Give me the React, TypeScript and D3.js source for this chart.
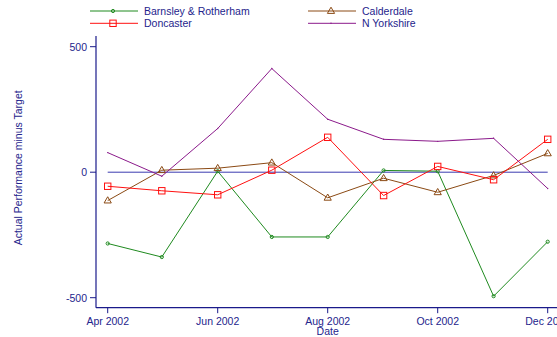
import React from 'react'
import * as d3 from 'd3'

const width = 557
const height = 337

const months = [
  '2002-04-01', '2002-05-01', '2002-06-01', '2002-07-01', '2002-08-01',
  '2002-09-01', '2002-10-01', '2002-11-01', '2002-12-01',
].map(s => new Date(s + 'T00:00:00'))

const barnsley = [-284, -338, 4, -258, -258, 7, 4, -494, -277]
const calderdale = [-113, 8, 16, 38, -102, -24, -80, -13, 75]
const doncaster = [-56, -74, -90, 8, 139, -93, 23, -30, 131]
const nYorkshire = [78, -16, 174, 413, 211, 131, 123, 135, -65]

const yTicks = [-500, 0, 500]
const xTickDates = ['2002-04-01', '2002-06-01', '2002-08-01', '2002-10-01', '2002-12-01']
  .map(s => new Date(s + 'T00:00:00'))
const xTickLabels = ['Apr 2002', 'Jun 2002', 'Aug 2002', 'Oct 2002', 'Dec 2002']

const axisColor = '#1a1a8a'
const textColor = '#24248c'
const font = '"Liberation Sans", Arial, sans-serif'

type Marker = 'circle' | 'square' | 'triangle' | 'dot'
type Series = { name: string, values: number[], color: string, marker: Marker }

const series: Series[] = [
  { name: 'Barnsley & Rotherham', values: barnsley, color: '#1f8a1f', marker: 'circle' },
  { name: 'Calderdale', values: calderdale, color: '#8b4a14', marker: 'triangle' },
  { name: 'Doncaster', values: doncaster, color: '#ff1010', marker: 'square' },
  { name: 'N Yorkshire', values: nYorkshire, color: '#8b1a8b', marker: 'dot' },
]

function MarkerShape({ type, x, y, color }: { type: Marker, x: number, y: number, color: string }) {
  if (type === 'circle') return <circle cx={x} cy={y} r={1.6} fill="none" stroke={color} strokeWidth={1} />
  if (type === 'square') return <rect x={x - 3.2} y={y - 3.2} width={6.4} height={6.4} fill="none" stroke={color} strokeWidth={1} />
  if (type === 'triangle') {
    const tri = `M${x},${y - 3.8}L${x + 3.6},${y + 2.4}L${x - 3.6},${y + 2.4}Z`
    return <path d={tri} fill="none" stroke={color} strokeWidth={1} />
  }
  return <circle cx={x} cy={y} r={0.7} fill={color} />
}

export default function App() {
  const x = d3.scaleTime()
    .domain([months[0], months[months.length - 1]])
    .range([107.7, 547.7])

  const y = d3.scaleLinear()
    .domain([-500, 500])
    .range([297.7, 46.7])

  const line = d3.line<number>()
    .x((_, i) => x(months[i]))
    .y(d => y(d))

  const axisLeft = 96
  const axisBottom = 307.7

  const legendPos = [
    { lx: 90, ly: 11 }, { lx: 308, ly: 11 },
    { lx: 90, ly: 23.3 }, { lx: 308, ly: 23.3 },
  ]

  return (
    <svg width={width} height={height} style={{ position: 'absolute', left: 0, top: 0, background: '#fff' }}
      fontFamily={font}>
      {/* legend */}
      {series.map((s, i) => {
        const { lx, ly } = legendPos[i]
        return (
          <g key={s.name}>
            <line x1={lx} x2={lx + 48} y1={ly} y2={ly} stroke={s.color} strokeWidth={1} />
            <MarkerShape type={s.marker} x={lx + 23} y={ly} color={s.color} />
            <text x={lx + 54} y={ly + 3.8} fontSize={10.5} fill={textColor}>{s.name}</text>
          </g>
        )
      })}

      {/* zero line */}
      <line x1={x(months[0])} x2={x(months[months.length - 1])} y1={y(0)} y2={y(0)}
        stroke="#3a3ab0" strokeWidth={1} />

      {/* series */}
      {series.map(s => (
        <g key={s.name}>
          <path d={line(s.values) ?? ''} fill="none" stroke={s.color} strokeWidth={1} />
          {s.values.map((v, i) => (
            <MarkerShape key={i} type={s.marker} x={x(months[i])} y={y(v)} color={s.color} />
          ))}
        </g>
      ))}

      {/* y axis */}
      <line x1={axisLeft} x2={axisLeft} y1={36} y2={axisBottom} stroke={axisColor} strokeWidth={1.2} />
      {yTicks.map(t => (
        <g key={t}>
          <line x1={axisLeft - 6} x2={axisLeft} y1={y(t)} y2={y(t)} stroke={axisColor} strokeWidth={1} />
          <text x={axisLeft - 9} y={y(t) + 3.8} textAnchor="end" fontSize={10.5} fill={textColor}>{t}</text>
        </g>
      ))}
      <text transform={`translate(22,${(36 + axisBottom) / 2 - 4}) rotate(-90)`} textAnchor="middle"
        fontSize={10.5} fill={textColor}>Actual Performance minus Target</text>

      {/* x axis */}
      <line x1={axisLeft} x2={width + 2} y1={axisBottom} y2={axisBottom} stroke={axisColor} strokeWidth={1.2} />
      {xTickDates.map((d, i) => (
        <g key={i}>
          <line x1={x(d)} x2={x(d)} y1={axisBottom} y2={axisBottom + 5.5} stroke={axisColor} strokeWidth={1} />
          <text x={x(d)} y={325} textAnchor="middle" fontSize={10.5} fill={textColor}>{xTickLabels[i]}</text>
        </g>
      ))}
      <text x={x(xTickDates[2])} y={335} textAnchor="middle" fontSize={10.5} fill={textColor}>Date</text>
    </svg>
  )
}
